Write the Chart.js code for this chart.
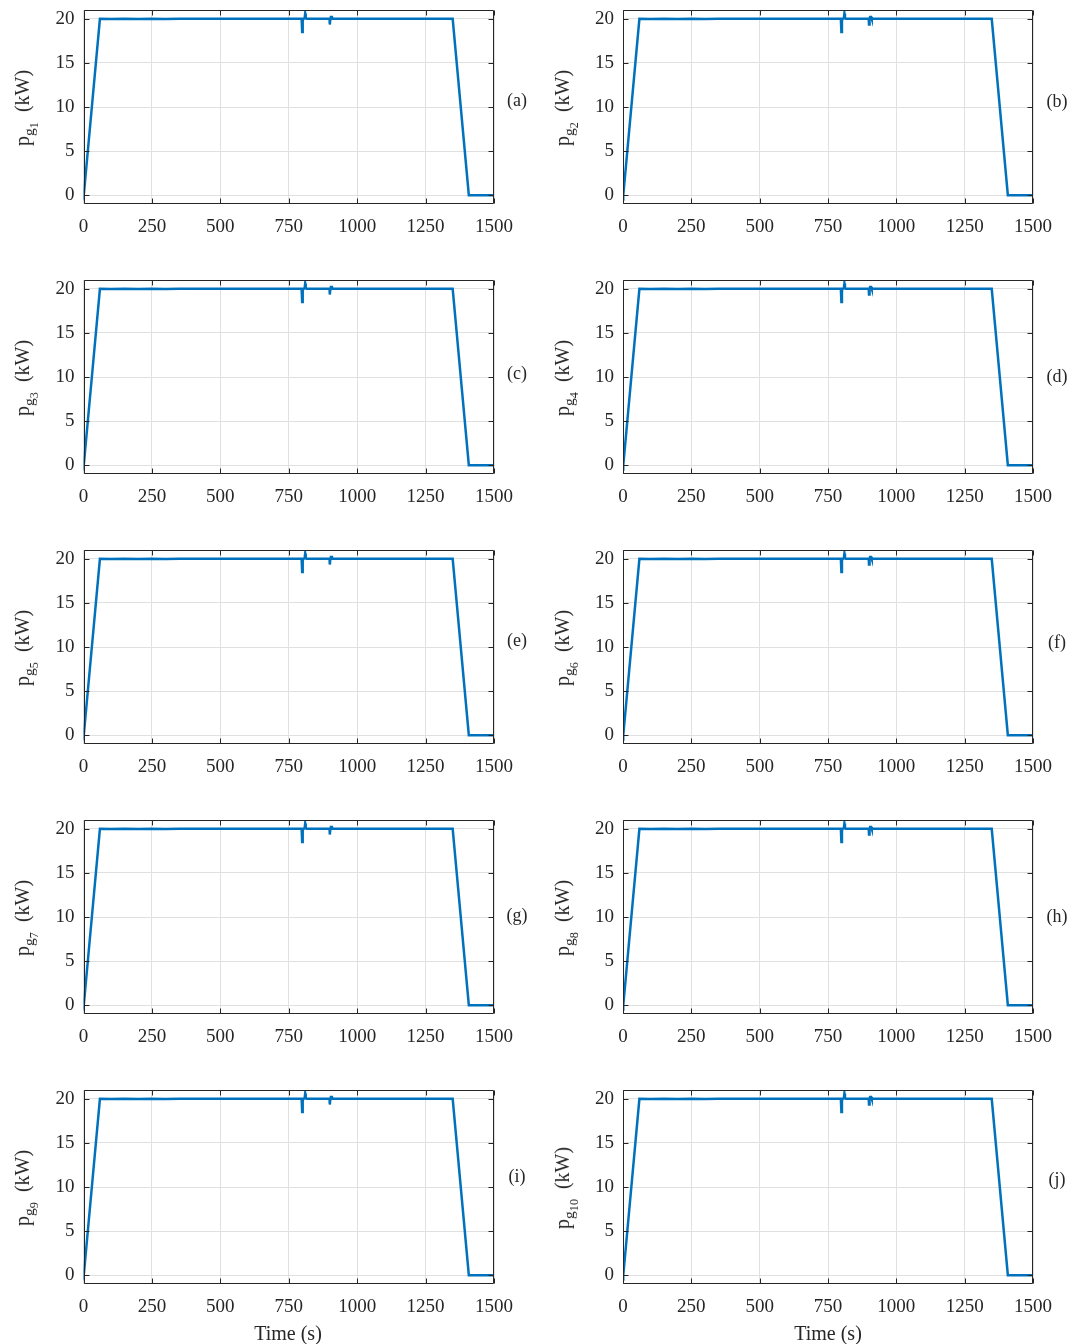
<!DOCTYPE html>
<html>
<head>
<meta charset="utf-8">
<script src="https://cdn.jsdelivr.net/npm/chart.js@4.4.1/dist/chart.umd.min.js"></script>
<style>
  html, body { margin: 0; padding: 0; background: #fff; width: 1070px; height: 1344px; overflow: hidden; }
  #wrap { position: relative; width: 1070px; height: 1344px; }
  canvas { position: absolute; }
  .txt { position: absolute; font-family: 'Liberation Serif', 'Times New Roman', serif; color: #262626; white-space: nowrap; line-height: 1; }
  .ylab { font-size: 20px; transform: translate(-50%, -50%) rotate(-90deg); }
  .ylab sub { font-size: 0.78em; vertical-align: -0.32em; }
  .plab { font-size: 18px; transform: translate(-50%, -50%); }
  .xlab { font-size: 20px; transform: translate(-50%, -50%); }
</style>
</head>
<body>
<div id="wrap"></div>
<script>
// ---- data ----
const timeS = [0, 1, 60, 100, 150, 200, 250, 300, 350, 400, 600, 797, 799, 801, 804, 808, 810, 812, 815, 899, 900, 902, 904, 908, 910, 1000, 1200, 1349, 1408, 1450, 1500];
const pgKW  = [-0.5, 0, 20, 19.97, 20.02, 19.97, 20.02, 19.97, 20.02, 20, 20, 20, 18.5, 19.8, 20, 20.05, 20.6, 20.05, 20, 20, 19.35, 20.0, 20.2, 20.2, 20, 20, 20, 20, 0, 0, 0];
const panelLetters = ['a', 'b', 'c', 'd', 'e', 'f', 'g', 'h', 'i', 'j'];
const generatorIds = ['1', '2', '3', '4', '5', '6', '7', '8', '9', '10'];
const xTicks = [0, 250, 500, 750, 1000, 1250, 1500];
const yTicks = [0, 5, 10, 15, 20];
const panelLabelY = [100, 101, 373, 376, 640, 642, 915, 916, 1176, 1179];

const wrap = document.getElementById('wrap');
const FONT = "'Liberation Serif', 'Times New Roman', serif";
const AXC = '#262626';

const boxPlugin = {
  id: 'box',
  afterDraw(chart) {
    const ctx = chart.ctx, a = chart.chartArea;
    const xs = chart.scales.x, ys = chart.scales.y;
    ctx.save();
    ctx.strokeStyle = AXC;
    ctx.lineWidth = 1;
    ctx.beginPath();
    const L = Math.round(a.left) + 0.5, R = Math.round(a.right) - 0.5;
    const T = Math.round(a.top) + 0.5, B = Math.round(a.bottom) - 0.5;
    ctx.rect(L, T, R - L, B - T);
    const tl = 5;
    xTicks.forEach(v => {
      const px = Math.round(xs.getPixelForValue(v)) + 0.5;
      ctx.moveTo(px, B); ctx.lineTo(px, B - tl);
      ctx.moveTo(px, T); ctx.lineTo(px, T + tl);
    });
    yTicks.forEach(v => {
      const py = Math.round(ys.getPixelForValue(v)) + 0.5;
      ctx.moveTo(L, py); ctx.lineTo(L + tl, py);
      ctx.moveTo(R, py); ctx.lineTo(R - tl, py);
    });
    ctx.stroke();
    ctx.restore();
  }
};

for (let i = 0; i < 10; i++) {
  const col = i % 2, row = Math.floor(i / 2);
  const left = col * 540, top = row * 270;
  const cv = document.createElement('canvas');
  cv.width = 540; cv.height = 270;
  cv.style.left = left + 'px'; cv.style.top = top + 'px';
  cv.style.width = '540px'; cv.style.height = '270px';
  wrap.appendChild(cv);

  const points = timeS.map((t, k) => ({ x: t, y: pgKW[k] }));

  new Chart(cv.getContext('2d'), {
    type: 'line',
    data: {
      datasets: [{
        data: points,
        borderColor: '#0072BD',
        borderWidth: 2.5,
        pointRadius: 0,
        tension: 0,
        fill: false
      }]
    },
    options: {
      responsive: false,
      animation: false,
      devicePixelRatio: 1,
      layout: { padding: { left: 0, right: col === 0 ? 46 : 47, top: 10, bottom: 0 } },
      plugins: { legend: { display: false }, tooltip: { enabled: false } },
      scales: {
        x: {
          type: 'linear', min: 0, max: 1500,
          afterBuildTicks: s => { s.ticks = xTicks.map(v => ({ value: v })); },
          afterFit: s => { s.height = 66; s.paddingLeft = 0; s.paddingRight = 0; },
          grid: { color: '#e0e0e0', lineWidth: 1, drawTicks: false },
          border: { display: false },
          ticks: { font: { family: FONT, size: 19 }, color: AXC, padding: 12, maxRotation: 0, autoSkip: false, callback: v => String(v) }
        },
        y: {
          type: 'linear', min: -1, max: 21,
          afterBuildTicks: s => { s.ticks = yTicks.map(v => ({ value: v })); },
          afterFit: s => { s.width = col === 0 ? 83.5 : 83; s.paddingTop = 0; s.paddingBottom = 0; },
          grid: { color: '#e0e0e0', lineWidth: 1, drawTicks: false },
          border: { display: false },
          ticks: { font: { family: FONT, size: 19 }, color: AXC, padding: 9, callback: v => String(v) }
        }
      }
    },
    plugins: [boxPlugin]
  });

  // y-axis label
  const yl = document.createElement('div');
  yl.className = 'txt ylab';
  yl.innerHTML = 'p<sub>g<sub>' + generatorIds[i] + '</sub></sub>&nbsp;&nbsp;(kW)';
  yl.style.left = (left + 26) + 'px';
  yl.style.top = (top + 108) + 'px';
  wrap.appendChild(yl);

  // panel letter
  const pl = document.createElement('div');
  pl.className = 'txt plab';
  pl.textContent = '(' + panelLetters[i] + ')';
  pl.style.left = (left + 517) + 'px';
  pl.style.top = panelLabelY[i] + 'px';
  wrap.appendChild(pl);

  if (row === 4) {
    const xl = document.createElement('div');
    xl.className = 'txt xlab';
    xl.textContent = 'Time (s)';
    xl.style.left = (left + 288) + 'px';
    xl.style.top = '1333px';
    wrap.appendChild(xl);
  }
}
</script>
</body>
</html>
